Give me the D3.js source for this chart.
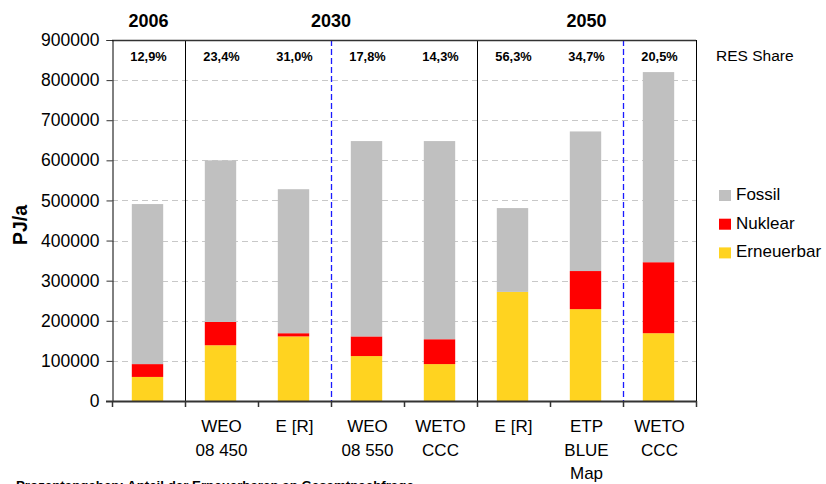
<!DOCTYPE html>
<html>
<head>
<meta charset="utf-8">
<script src="https://cdn.jsdelivr.net/npm/d3@7"></script>
<style>
  body { margin: 0; background: #fff; }
  text { font-family: Arial, "Liberation Sans", sans-serif; }
</style>
</head>
<body>
<div id="chart"></div>
<script>
let categories = ["", "WEO|08 450", "E [R]", "WEO|08 550", "WETO|CCC", "E [R]", "ETP|BLUE|Map", "WETO|CCC"];
let erneuerbar = [60000, 139000, 161000, 112000, 92000, 272000, 229000, 169000];
let nuklear = [32000, 58000, 8000, 49000, 62000, 0, 95000, 177000];
let fossil = [399000, 403000, 359000, 487000, 494000, 209000, 348000, 474000];
let shares = ["12,9%", "23,4%", "31,0%", "17,8%", "14,3%", "56,3%", "34,7%", "20,5%"];
let groups = [
  { label: "2006", from: 0, to: 1 },
  { label: "2030", from: 1, to: 5 },
  { label: "2050", from: 5, to: 8 }
];
let dashedAt = [3, 7]; // blue dashed separators before these categories
let series = ["Erneuerbar", "Nuklear", "Fossil"];
let colors = { Erneuerbar: "#FFD320", Nuklear: "#FF0000", Fossil: "#C0C0C0" };
let yTicks = d3.range(0, 900001, 100000);

let width = 826,
height = 484,
margin = { left: 112, right: 130, top: 40, bottom: 83 };

let svg = d3.select("#chart")
.append("svg")
.attr("width", width)
.attr("height", height);

let x = d3.scaleBand()
.domain(d3.range(categories.length))
.range([margin.left, width - margin.right])
.padding(0);

let y = d3.scaleLinear()
.domain([0, 900000])
.range([height - margin.bottom, margin.top]);

let table = categories.map((c, i) => ({
  i: i, Erneuerbar: erneuerbar[i], Nuklear: nuklear[i], Fossil: fossil[i]
}));
let stacked = d3.stack().keys(series)(table);

// gridlines
svg.append("g")
.selectAll("line")
.data(yTicks.filter(d => d > 0 && d < 900000))
.enter().append("line")
.attr("x1", margin.left)
.attr("x2", width - margin.right)
.attr("y1", d => Math.round(y(d)) + 0.5)
.attr("y2", d => Math.round(y(d)) + 0.5)
.attr("stroke", "#C8C8C8")
.attr("stroke-width", 1)
.attr("stroke-dasharray", "6,4");

// bars
let bw = x.bandwidth() * 0.43;
svg.append("g")
.selectAll("g")
.data(stacked)
.enter().append("g")
.attr("fill", d => colors[d.key])
.selectAll("rect")
.data(d => d)
.enter().append("rect")
.attr("x", d => x(d.data.i) + (x.bandwidth() - bw) / 2 - 1)
.attr("width", bw)
.attr("y", d => y(d[1]))
.attr("height", d => y(d[0]) - y(d[1]));

// group separators (solid)
groups.slice(1).forEach(g => {
  let xx = Math.round(x(g.from)) + 0.5;
  svg.append("line")
  .attr("x1", xx).attr("x2", xx)
  .attr("y1", margin.top).attr("y2", y(0))
  .attr("stroke", "#000").attr("stroke-width", 1);
});

// blue dashed separators
dashedAt.forEach(i => {
  let xx = Math.round(x(i)) + 0.5;
  svg.append("line")
  .attr("x1", xx).attr("x2", xx)
  .attr("y1", margin.top).attr("y2", y(0))
  .style("stroke", "#1a1aff").attr("stroke-width", 1.3)
  .attr("stroke-dasharray", "6,3");
});

// frame: top and right
svg.append("line")
.attr("x1", margin.left).attr("x2", width - margin.right)
.attr("y1", margin.top + 0.5).attr("y2", margin.top + 0.5)
.attr("stroke", "#333").attr("stroke-width", 1.5);
svg.append("line")
.attr("x1", width - margin.right + 0.5).attr("x2", width - margin.right + 0.5)
.attr("y1", margin.top).attr("y2", y(0))
.attr("stroke", "#000").attr("stroke-width", 1);

// y axis
let yAxis = svg.append("g")
.attr("transform", "translate(" + (margin.left + 0.5) + ",0)")
.call(d3.axisLeft(y).tickValues(yTicks).tickFormat(d3.format("d")).tickSize(6).tickPadding(7));
yAxis.select(".domain").attr("stroke", "#000");
yAxis.selectAll(".tick line").attr("stroke", "#333");
yAxis.selectAll("text")
.attr("font-size", 17.5)
.attr("font-family", "Arial, 'Liberation Sans', sans-serif")
.attr("fill", "#000");

// x axis
let boundaries = d3.range(categories.length + 1).map(i => margin.left + i * x.bandwidth());
svg.append("line")
.attr("x1", margin.left - 6).attr("x2", width - margin.right)
.attr("y1", y(0) + 0.5).attr("y2", y(0) + 0.5)
.attr("stroke", "#333").attr("stroke-width", 2);
svg.append("g")
.selectAll("line")
.data(boundaries)
.enter().append("line")
.attr("x1", d => Math.round(d) + 0.5)
.attr("x2", d => Math.round(d) + 0.5)
.attr("y1", y(0))
.attr("y2", y(0) + 6)
.attr("stroke", "#333")
.attr("stroke-width", 1.5);

// category labels
svg.append("g")
.selectAll("text")
.data(categories)
.enter().append("text")
.attr("text-anchor", "middle")
.attr("font-size", 17)
.attr("fill", "#000")
.attr("transform", (d, i) => "translate(" + (x(i) + x.bandwidth() / 2) + ",432)")
.selectAll("tspan")
.data(d => d ? d.split("|") : [])
.enter().append("tspan")
.attr("x", 0)
.attr("y", (d, j) => j * 23.5)
.text(d => d);

// share labels
svg.append("g")
.selectAll("text")
.data(shares)
.enter().append("text")
.attr("x", (d, i) => x(i) + x.bandwidth() / 2)
.attr("y", 60.5)
.attr("text-anchor", "middle")
.attr("font-size", 12.8)
.attr("font-weight", "bold")
.text(d => d);

svg.append("text")
.attr("x", 716)
.attr("y", 61)
.attr("font-size", 15.5)
.text("RES Share");

// group titles
svg.append("g")
.selectAll("text")
.data(groups)
.enter().append("text")
.attr("x", d => (x(d.from) + x(d.to - 1) + x.bandwidth()) / 2)
.attr("y", 27)
.attr("text-anchor", "middle")
.attr("font-size", 18)
.attr("font-weight", "bold")
.text(d => d.label);

// y title
svg.append("text")
.attr("transform", "translate(27,225) rotate(-90)")
.attr("text-anchor", "middle")
.attr("font-size", 19.5)
.attr("font-weight", "bold")
.text("PJ/a");

// legend
let legend = svg.append("g")
.selectAll("g")
.data(series.slice().reverse())
.enter().append("g")
.attr("transform", (d, i) => "translate(719," + (190 + i * 28.7) + ")");
legend.append("rect")
.attr("width", 12)
.attr("height", 11)
.attr("fill", d => colors[d]);
legend.append("text")
.attr("x", 17)
.attr("y", 10)
.attr("font-size", 17)
.text(d => d);

// footnote (cut by the lower edge, as in the original)
svg.append("text")
.attr("x", 16)
.attr("y", 490)
.attr("font-size", 13.3)
.attr("font-weight", "bold")
.text("Prozentangaben: Anteil der Erneuerbaren an Gesamtnachfrage");
</script>
</body>
</html>
